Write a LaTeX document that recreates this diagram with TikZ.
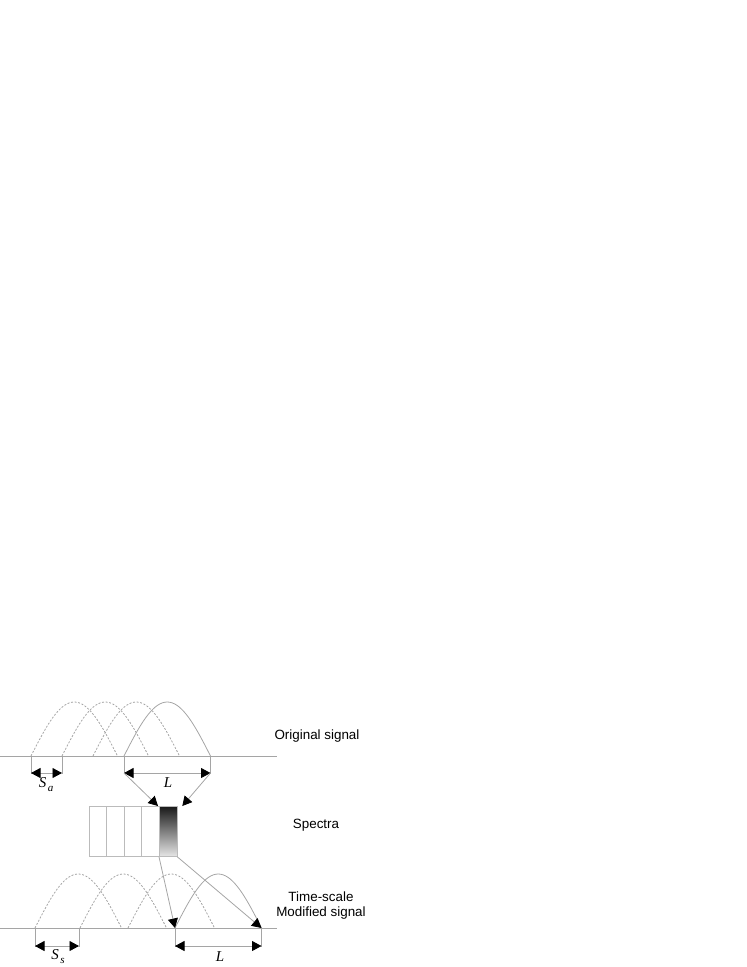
\documentclass[tikz,border=0pt]{standalone}
\usepackage{fontspec}
\setmainfont{Liberation Sans}
\newfontfamily\timesfont{Liberation Serif}
\usetikzlibrary{arrows.meta}

\definecolor{siggray}{RGB}{165,165,165}

\tikzset{
  sig/.style={draw=siggray, line width=0.8pt},
  sigdash/.style={sig, dash pattern=on 2pt off 1.6pt},
  tri/.tip={Triangle[length=9.5pt,width=10pt,color=black]},
  tip/.style={sig, -tri},
  dimline/.style={sig, tri-tri},
  caption/.style={font=\fontsize{13.4}{15}\selectfont, align=center, inner sep=0pt},
  dimlabel/.style={font=\fontsize{15}{16}\timesfont\itshape, inner sep=0pt}
}

% one window: style, start x, baseline y
\newcommand{\windowarch}[3]{%
  \draw[#1] plot[domain=0:180,samples=37,smooth] ({#2+\x/180*86.5},{#3-54*sin(\x)});}
% italic hop label with small lowered index
\newcommand{\hoplabel}[1]{S\kern1.5pt\raisebox{-4pt}{\fontsize{11}{11}\selectfont #1}}

\begin{document}
\begin{tikzpicture}[x=1pt,y=1pt,yscale=-1,xscale=1]
\useasboundingbox (0,0) rectangle (747,967);

%Shape: original signal axis
\draw[sig] (0,756) -- (277,756);
%Shape: analysis windows
\windowarch{sigdash}{31}{756}
\windowarch{sigdash}{62}{756}
\windowarch{sigdash}{93}{756}
\windowarch{sig}{124}{756}

% analysis hop and window length
\coordinate (Sa-l) at (31,773);
\coordinate (Sa-r) at (62,773);
\coordinate (Ltop-l) at (124,773);
\coordinate (Ltop-r) at (210.5,773);
\draw[sig] (31,756) -- (31,774) (62,756) -- (62,774);
\draw[sig] (124,756) -- (124,774) (210.5,756) -- (210.5,774);
\draw[dimline] (Sa-l) -- (Sa-r);
\draw[dimline] (Ltop-l) -- (Ltop-r);

%Shape: spectra cells
\draw[sig, draw=siggray!75] (89,806) rectangle (159,856);
\draw[sig, draw=siggray!75] (106.5,806) -- (106.5,856) (124,806) -- (124,856) (141.5,806) -- (141.5,856);
\node[draw=siggray!75, line width=0.8pt, top color=black!90, bottom color=black!10,
  minimum width=17.5pt, minimum height=50pt, inner sep=0pt, anchor=north west] (spec) at (159,806) {};

% synthesis axis
\draw[sig] (0,928) -- (277,928);
\windowarch{sigdash}{35}{928}
\windowarch{sigdash}{80}{928}
\windowarch{sigdash}{128}{928}
\windowarch{sig}{175}{928}

% synthesis hop and window length
\coordinate (Ss-l) at (35,946);
\coordinate (Ss-r) at (79,946);
\coordinate (Lbot-l) at (175,928);
\coordinate (Lbot-r) at (261.5,928);
\draw[sig] (35,928) -- (35,947) (79,928) -- (79,947);
\draw[sig] (175,928) -- (175,947) (261.5,928) -- (261.5,947);
\draw[dimline] (Ss-l) -- (Ss-r);
\draw[dimline] (175,946) -- (261.5,946);

% window to spectrum and back
\draw[tip] (Ltop-l) -- ([xshift=-1pt]spec.north west);
\draw[tip] (Ltop-r) -- ([xshift=5pt]spec.north east);
\draw[tip] (spec.south west) -- (Lbot-l);
\draw[tip] (spec.south east) -- (Lbot-r);

% Text Node
\node[dimlabel] (lab-sa) at (46,785) {\hoplabel{a}};
% Text Node
\node[dimlabel] (lab-ltop) at (168,783) {L};
% Text Node
\node[dimlabel] (lab-ss) at (58,957) {\hoplabel{s}};
% Text Node
\node[dimlabel] (lab-lbot) at (220,957) {L};
% Text Node
\node[caption] (orig) at (317,736) {Original signal};
% Text Node
\node[caption] (spectra) at (316,825) {Spectra};
% Text Node
\node[caption] (modified) at (321,905.5) {Time-scale\\Modified signal};
\end{tikzpicture}
\end{document}
